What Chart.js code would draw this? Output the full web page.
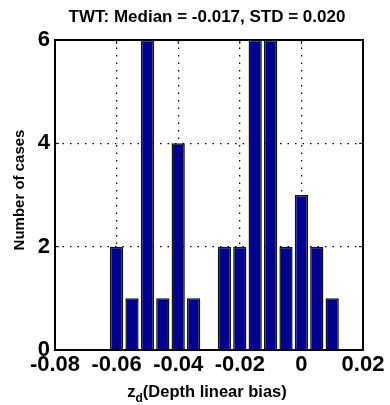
<!DOCTYPE html>
<html>
<head>
<meta charset="utf-8">
<script src="https://cdn.jsdelivr.net/npm/chart.js@4.4.1/dist/chart.umd.min.js"></script>
<style>
  html, body { margin: 0; padding: 0; background: #fff; }
  #wrap { width: 390px; height: 405px; }
</style>
</head>
<body>
<div id="wrap"><canvas id="chart"></canvas></div>
<script>
// histogram bins (centres) and counts
const binCenters = [-0.06, -0.055, -0.05, -0.045, -0.04, -0.035, -0.03, -0.025, -0.02, -0.015, -0.01, -0.005, 0, 0.005, 0.01];
const caseCounts = [2, 1, 6, 1, 4, 1, 0, 2, 2, 6, 6, 2, 3, 2, 1];
const xTicks = [-0.08, -0.06, -0.04, -0.02, 0, 0.02];
const yTicks = [0, 2, 4, 6];
const chartTitle = 'TWT: Median = -0.017, STD = 0.020';
const yTitle = 'Number of cases';
const xTitleMain = 'z';
const xTitleSub = 'd';
const xTitleRest = '(Depth linear bias)';

const FONT = '"Liberation Sans", Arial, Helvetica, sans-serif';

// MATLAB-like box, inward tick marks and the text titles
const framePlugin = {
    id: 'frame',
    afterDraw(chart) {
        const { ctx, chartArea: a, scales } = chart;
        ctx.save();
        ctx.strokeStyle = '#000';
        ctx.lineWidth = 2;
        ctx.strokeRect(a.left, a.top, a.right - a.left, a.bottom - a.top);

        ctx.lineWidth = 1;
        ctx.beginPath();
        scales.x.ticks.forEach(t => {
            const px = scales.x.getPixelForValue(t.value);
            ctx.moveTo(px, a.bottom); ctx.lineTo(px, a.bottom - 4);
            ctx.moveTo(px, a.top); ctx.lineTo(px, a.top + 4);
        });
        scales.y.ticks.forEach(t => {
            const py = scales.y.getPixelForValue(t.value);
            ctx.moveTo(a.left, py); ctx.lineTo(a.left + 4, py);
            ctx.moveTo(a.right, py); ctx.lineTo(a.right - 4, py);
        });
        ctx.stroke();

        ctx.fillStyle = '#000';
        const cx = (a.left + a.right) / 2;

        // title
        ctx.font = 'bold 17px ' + FONT;
        ctx.textAlign = 'center';
        ctx.textBaseline = 'alphabetic';
        ctx.fillText(chartTitle, cx - 2, 22);

        // x title with subscript
        ctx.font = 'bold 16.5px ' + FONT;
        const wMain = ctx.measureText(xTitleMain).width;
        const wRest = ctx.measureText(xTitleRest).width;
        ctx.font = 'bold 12px ' + FONT;
        const wSub = ctx.measureText(xTitleSub).width;
        let x0 = cx - 2 - (wMain + wSub + wRest) / 2;
        ctx.textAlign = 'left';
        ctx.font = 'bold 16.5px ' + FONT;
        ctx.fillText(xTitleMain, x0, 397);
        ctx.font = 'bold 12px ' + FONT;
        ctx.fillText(xTitleSub, x0 + wMain, 402);
        ctx.font = 'bold 16.5px ' + FONT;
        ctx.fillText(xTitleRest, x0 + wMain + wSub, 397);

        // y title
        ctx.translate(24, (a.top + a.bottom) / 2 - 5);
        ctx.rotate(-Math.PI / 2);
        ctx.textAlign = 'center';
        ctx.font = 'bold 15px ' + FONT;
        ctx.fillText(yTitle, 0, 0);
        ctx.restore();
    }
};

const gridColor = (c, n) => (c.index === 0 || c.index === n - 1) ? 'rgba(0,0,0,0)' : '#000';

new Chart(document.getElementById('chart'), {
    type: 'bar',
    data: {
        datasets: [{
            label: 'Cases',
            data: binCenters.map((x, i) => ({ x: x, y: caseCounts[i] })),
            backgroundColor: 'rgb(0, 0, 140)',
            borderColor: '#111',
            borderWidth: 1.5,
            barPercentage: 0.86,
            categoryPercentage: 1
        }]
    },
    options: {
        responsive: true,
        maintainAspectRatio: false,
        animation: false,
        layout: {
            padding: { top: 40, right: 27, left: 0, bottom: 0 }
        },
        plugins: {
            legend: { display: false },
            tooltip: { enabled: false }
        },
        scales: {
            x: {
                type: 'linear',
                min: -0.08,
                max: 0.02,
                offset: false,
                afterBuildTicks: s => { s.ticks = xTicks.map(v => ({ value: v })); },
                afterFit: s => { s.height = 55; },
                ticks: {
                    color: '#000',
                    padding: 2,
                    maxRotation: 0,
                    autoSkip: false,
                    font: { family: FONT, size: 22, weight: 'bold' },
                    callback: v => String(+v.toFixed(2))
                },
                grid: {
                    offset: false,
                    drawTicks: false,
                    color: c => gridColor(c, xTicks.length),
                    lineWidth: 1.3
                },
                border: { display: false, dash: [1.5, 6] }
            },
            y: {
                min: 0,
                max: 6,
                afterBuildTicks: s => { s.ticks = yTicks.map(v => ({ value: v })); },
                afterFit: s => { s.width = 55; },
                ticks: {
                    color: '#000',
                    padding: 5,
                    font: { family: FONT, size: 22, weight: 'bold' }
                },
                grid: {
                    drawTicks: false,
                    color: c => gridColor(c, yTicks.length),
                    lineWidth: 1.3
                },
                border: { display: false, dash: [1.5, 6] }
            }
        }
    },
    plugins: [framePlugin]
});
</script>
</body>
</html>
